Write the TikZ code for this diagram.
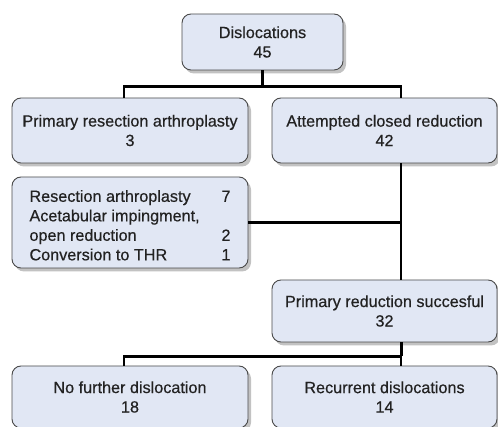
\documentclass[tikz,border=0pt]{standalone}
\usepackage{fontspec}
\setmainfont{Liberation Sans}[FakeBold=0.5]
\usetikzlibrary{shadows}
\definecolor{boxblue}{HTML}{E1E7F4}
\definecolor{boxline}{HTML}{4A4A4A}
\definecolor{boxtext}{HTML}{222222}

\begin{document}
\begin{tikzpicture}[x=1pt,y=-1pt,font=\fontsize{16.2}{19.5}\selectfont,
    box/.style={draw=boxline,line width=0.9pt,fill=boxblue,rounded corners=9pt,
        align=center,inner sep=0pt,text=boxtext,
        drop shadow={shadow xshift=3pt,shadow yshift=-3.5pt,opacity=0.4,fill=black!60}},
    link/.style={line width=2.3pt,black}]

\useasboundingbox (0,0) rectangle (498,427);

\node[box,minimum width=161,minimum height=56] (disl) at (262.5,42) {Dislocations\\45};
\node[box,minimum width=236,minimum height=65] (prim) at (130,130.5) {Primary resection arthroplasty\\3};
\node[box,minimum width=225,minimum height=65] (att) at (384.5,130.5) {Attempted closed reduction\\42};
\node[box,minimum width=236,minimum height=91] (res) at (130,222.5)
    {\begin{tabular*}{201pt}{@{}l@{\extracolsep{\fill}}r@{}}
     \rule{0pt}{23pt}Resection arthroplasty & 7\\
     Acetabular impingment, & \\
     open reduction & 2\\
     Conversion to THR & 1
     \end{tabular*}};
\node[box,minimum width=225,minimum height=62] (succ) at (384.5,311) {Primary reduction succesful\\32};
\node[box,minimum width=236,minimum height=62] (nofur) at (130,397) {No further dislocation\\18};
\node[box,minimum width=225,minimum height=62] (recur) at (384.5,397) {Recurrent dislocations\\14};

% connectors
\draw[link,line width=3.2pt] (disl.south) -- ++(0,16) coordinate (j1);
\draw[link] ([xshift=-6pt]prim.north) |- (j1) -| ([xshift=16.5pt]att.north);
\draw[link] ([xshift=16.5pt]att.south) -- ([xshift=16.5pt]succ.north) coordinate (j2);
\draw[link] (res.east) -- (res.east -| j2);
\draw[link,line width=3pt] ([xshift=16.5pt]succ.south) -- ++(0,14) coordinate (j3);
\draw[link] ([xshift=-6pt]nofur.north) |- (j3) -- ([xshift=16.5pt]recur.north);

\end{tikzpicture}
\end{document}
